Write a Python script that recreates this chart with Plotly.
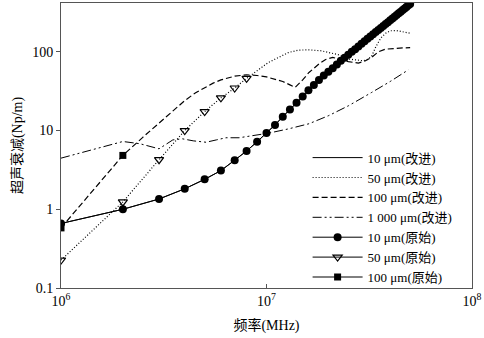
import plotly.graph_objects as go

# ---- data ----
f_10_orig = [1e6, 2e6, 3e6, 4e6, 5e6, 6e6, 7e6, 8e6, 9e6, 1e7,
             1.1e7, 1.2e7, 1.3e7, 1.4e7, 1.5e7, 1.6e7, 1.7e7, 1.8e7, 1.9e7, 2e7,
             2.1e7, 2.2e7, 2.3e7, 2.4e7, 2.5e7, 2.6e7, 2.7e7, 2.8e7, 2.9e7, 3e7,
             3.1e7, 3.2e7, 3.3e7, 3.4e7, 3.5e7, 3.6e7, 3.7e7, 3.8e7, 3.9e7, 4e7,
             4.1e7, 4.2e7, 4.3e7, 4.4e7, 4.5e7, 4.6e7, 4.7e7, 4.8e7, 4.9e7, 5e7]
a_10_orig = [0.66, 1.0, 1.35, 1.82, 2.4, 3.1, 4.2, 5.5, 7.2, 9.3,
             11.8, 15, 18.5, 22.5, 27, 32.5, 38, 44, 50, 56,
             62, 69, 77, 84, 92, 100, 108, 117, 127, 136,
             146, 156, 167, 178, 189, 200, 213, 225, 238, 251,
             265, 279, 293, 308, 323, 339, 355, 372, 389, 406]

f_10_imp = f_10_orig
a_10_imp = a_10_orig

f_50_orig = [1e6, 2e6, 3e6, 4e6, 5e6, 6e6, 7e6, 8e6]
a_50_orig = [0.226, 1.24, 4.26, 10, 17.4, 26, 34.7, 46]

f_50_imp = [1e6, 2e6, 3e6, 4e6, 5e6, 6e6, 7e6, 8e6, 1.02e7, 1.28e7, 1.43e7,
            1.61e7, 1.85e7, 2.01e7, 2.23e7, 2.51e7, 2.78e7, 2.95e7, 3.1e7,
            3.25e7, 3.4e7, 3.6e7, 3.8e7, 4e7, 4.3e7, 4.6e7, 5e7]
a_50_imp = [0.226, 1.24, 4.26, 10, 17.4, 26, 34.7, 46, 73, 98, 105,
            106, 103, 98, 92, 81, 78, 77, 80,
            88, 115, 150, 172, 185, 186, 180, 172]

f_100_orig = [1e6, 2e6]
a_100_orig = [0.58, 4.83]

f_100_imp = [1e6, 2e6, 2.5e6, 3e6, 3.5e6, 4e6, 4.5e6, 5e6, 5.5e6, 6e6, 7e6, 8e6,
             9e6, 1e7, 1.1e7, 1.2e7, 1.3e7, 1.38e7, 1.5e7, 1.61e7, 1.8e7, 1.94e7,
             2.1e7, 2.24e7, 2.5e7, 2.8e7, 3e7, 3.25e7, 3.5e7, 3.78e7, 4.2e7, 4.6e7, 5e7]
a_100_imp = [0.58, 4.83, 8.2, 12.5, 17.9, 24, 30, 35, 40, 44, 49, 51,
             50, 48, 45, 42, 38, 35.4, 44, 54.7, 70, 80,
             85, 81, 75, 72, 76, 85, 100, 108, 111, 112, 113]

f_1000_imp = [1e6, 2e6, 2.42e6, 3e6, 3.5e6, 3.9e6, 4.4e6, 5.08e6, 5.7e6, 6.35e6,
              7.36e6, 8.5e6, 9.2e6, 1.02e7, 1.28e7, 1.61e7, 2.01e7, 2.24e7,
              2.51e7, 3.25e7, 4e7, 4.9e7]
a_1000_imp = [4.46, 7.26, 6.8, 5.86, 7.6, 7.85, 7.4, 7.1, 7.6, 8.1,
              8.1, 8.65, 8.9, 9.25, 10.5, 12.2, 15.5, 17.8,
              20.7, 30.5, 42, 59]

names = ["10 μm(改进)", "50 μm(改进)", "100 μm(改进)", "1 000 μm(改进)",
         "10 μm(原始)", "50 μm(原始)", "100 μm(原始)"]

x_tickvals = [1e6, 1e7, 1e8]
x_ticktext = ["10<sup>6</sup>", "10<sup>7</sup>", "10<sup>8</sup>"]
y_tickvals = [0.1, 1, 10, 100]
y_ticktext = ["0.1", "1", "10", "100"]

FONT = "Times New Roman, Liberation Serif, Noto Sans CJK SC, serif"
BLACK = "#000000"
DOT = "1px,2px"
DASH = "6px,3px"
DASHDOTDOT = "9px,3px,2px,3px,2px,3px"

fig = go.Figure()
fig.add_trace(go.Scatter(x=f_10_imp, y=a_10_imp, mode="lines", name=names[0],
                         line=dict(color=BLACK, width=1, dash="solid")))
fig.add_trace(go.Scatter(x=f_50_imp, y=a_50_imp, mode="lines", name=names[1],
                         line=dict(color=BLACK, width=1.2, dash=DOT)))
fig.add_trace(go.Scatter(x=f_100_imp, y=a_100_imp, mode="lines", name=names[2],
                         line=dict(color=BLACK, width=1.2, dash=DASH)))
fig.add_trace(go.Scatter(x=f_1000_imp, y=a_1000_imp, mode="lines", name=names[3],
                         line=dict(color=BLACK, width=1, dash=DASHDOTDOT)))
fig.add_trace(go.Scatter(x=f_10_orig, y=a_10_orig, mode="lines+markers", name=names[4],
                         line=dict(color=BLACK, width=1),
                         marker=dict(symbol="circle", size=8, color=BLACK)))
# markers on the curves (their connecting lines coincide with the improved curves)
fig.add_trace(go.Scatter(x=f_50_orig, y=a_50_orig, mode="markers", name=names[5],
                         showlegend=False, legendgroup="g50",
                         marker=dict(symbol="triangle-down-open", size=8, color=BLACK,
                                     line=dict(width=1.2))))
fig.add_trace(go.Scatter(x=f_100_orig, y=a_100_orig, mode="markers", name=names[6],
                         showlegend=False, legendgroup="g100",
                         marker=dict(symbol="square", size=7, color=BLACK)))
# legend entries for the original series (solid line + marker)
fig.add_trace(go.Scatter(x=[None], y=[None], mode="lines+markers", name=names[5],
                         legendgroup="g50",
                         line=dict(color=BLACK, width=1),
                         marker=dict(symbol="triangle-down-open", size=8, color=BLACK,
                                     line=dict(width=1.2))))
fig.add_trace(go.Scatter(x=[None], y=[None], mode="lines+markers", name=names[6],
                         legendgroup="g100",
                         line=dict(color=BLACK, width=1),
                         marker=dict(symbol="square", size=7, color=BLACK)))

fig.update_layout(
    width=484, height=338,
    margin=dict(l=61, r=10, t=2, b=50),
    paper_bgcolor="white", plot_bgcolor="white",
    font=dict(family=FONT, size=13, color=BLACK),
    showlegend=True,
    legend=dict(x=0.6, y=0.51, xanchor="left", yanchor="top",
                bgcolor="rgba(255,255,255,0)", itemwidth=50,
                font=dict(family=FONT, size=13, color=BLACK),
                tracegroupgap=0),
    xaxis=dict(type="log", range=[6, 8], tickvals=x_tickvals, ticktext=x_ticktext,
               showgrid=False, zeroline=False, showline=True, mirror=True,
               linecolor="#555555", linewidth=1, ticks="inside", ticklen=4,
               tickcolor="#555555",
               title=dict(text="频率(MHz)", font=dict(family=FONT, size=14), standoff=12),
               tickfont=dict(family=FONT, size=14)),
    yaxis=dict(type="log", range=[-1, 2.62], tickvals=y_tickvals, ticktext=y_ticktext,
               showgrid=False, zeroline=False, showline=True, mirror=True,
               linecolor="#555555", linewidth=1, ticks="outside", ticklen=4,
               tickcolor="#555555",
               title=dict(text="超声衰减(Np/m)", font=dict(family=FONT, size=14), standoff=6),
               tickfont=dict(family=FONT, size=14)),
)

fig.write_html("out.html")
